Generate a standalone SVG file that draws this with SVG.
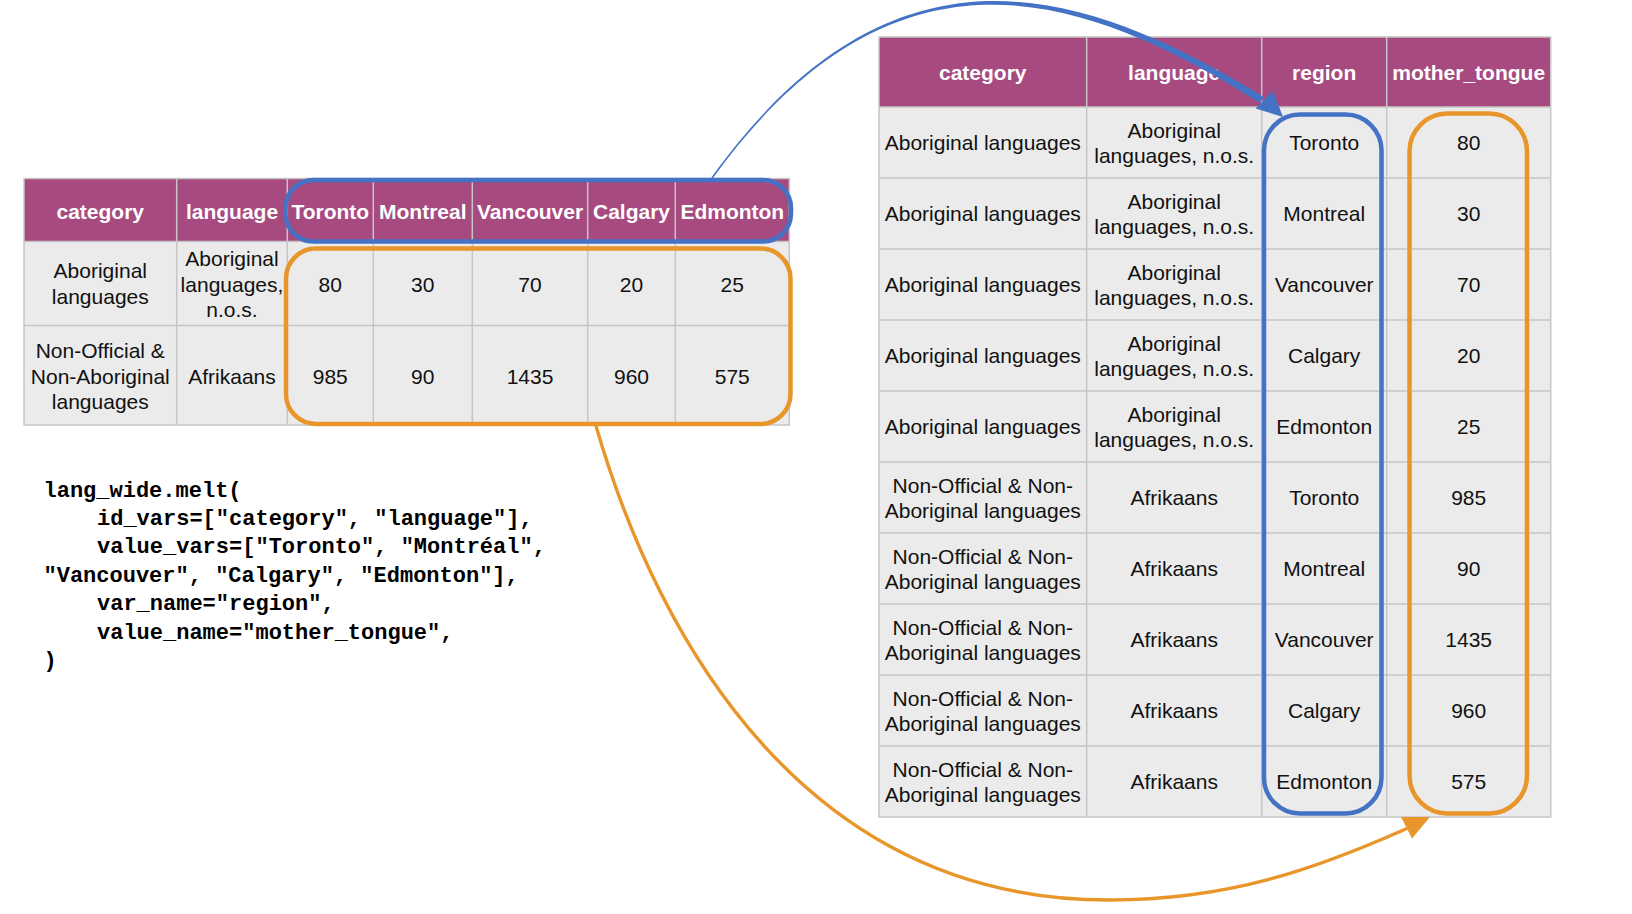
<svg xmlns="http://www.w3.org/2000/svg" width="1632" height="914" viewBox="0 0 1632 914">
<style>
.hd{fill:#A64A80}
.cell{fill:#EBEBEB}
.grid{stroke:#C6C6C6;stroke-width:1.5;fill:none}
.th{font-family:"Liberation Sans",Arial,sans-serif;font-weight:bold;font-size:21px;fill:#FFFFFF;text-anchor:middle}
.td{font-family:"Liberation Sans",Arial,sans-serif;font-size:21px;fill:#111111;text-anchor:middle}
.code{font-family:"Liberation Mono","DejaVu Sans Mono",monospace;font-weight:bold;font-size:22px;fill:#000000}
.blueBox{fill:none;stroke:#4472C4;stroke-width:4.5}
.orangeBox{fill:none;stroke:#E8962A;stroke-width:4.5}
</style>
<rect width="1632" height="914" fill="#FFFFFF"/>

<g id="wide-table">
  <rect x="24" y="178.5" width="765.3" height="63" class="hd"/>
  <rect x="24" y="241.5" width="765.3" height="183.5" class="cell"/>
  <path class="grid" d="M176.7,178.5V425M287.3,178.5V425M373.3,178.5V425M472.3,178.5V425M587.7,178.5V425M675.3,178.5V425M24,241.5H789.3M24,325.5H789.3"/>
  <rect x="24" y="178.5" width="765.3" height="246.5" class="grid"/>
  <text class="th" x="100.3" y="218.5">category</text>
  <text class="th" x="232" y="218.5">language</text>
  <text class="th" x="330.3" y="218.5">Toronto</text>
  <text class="th" x="422.8" y="218.5">Montreal</text>
  <text class="th" x="530" y="218.5">Vancouver</text>
  <text class="th" x="631.5" y="218.5">Calgary</text>
  <text class="th" x="732.3" y="218.5">Edmonton</text>
  <text class="td" x="100.3" y="278">Aboriginal</text>
  <text class="td" x="100.3" y="303.5">languages</text>
  <text class="td" x="232" y="266">Aboriginal</text>
  <text class="td" x="232" y="291.5">languages,</text>
  <text class="td" x="232" y="317">n.o.s.</text>
  <text class="td" x="330.3" y="292">80</text>
  <text class="td" x="422.8" y="292">30</text>
  <text class="td" x="530" y="292">70</text>
  <text class="td" x="631.5" y="292">20</text>
  <text class="td" x="732.3" y="292">25</text>
  <text class="td" x="100.3" y="358">Non-Official &amp;</text>
  <text class="td" x="100.3" y="383.5">Non-Aboriginal</text>
  <text class="td" x="100.3" y="409">languages</text>
  <text class="td" x="232" y="383.5">Afrikaans</text>
  <text class="td" x="330.3" y="383.5">985</text>
  <text class="td" x="422.8" y="383.5">90</text>
  <text class="td" x="530" y="383.5">1435</text>
  <text class="td" x="631.5" y="383.5">960</text>
  <text class="td" x="732.3" y="383.5">575</text>
</g>

<g id="long-table">
  <rect x="879" y="37" width="671.7" height="70" class="hd"/>
  <rect x="879" y="107" width="671.7" height="710" class="cell"/>
  <path class="grid" d="M1086.7,37V817M1261.7,37V817M1386.7,37V817M879,107H1550.7M879,178H1550.7M879,249H1550.7M879,320H1550.7M879,391H1550.7M879,462H1550.7M879,533H1550.7M879,604H1550.7M879,675H1550.7M879,746H1550.7"/>
  <rect x="879" y="37" width="671.7" height="780" class="grid"/>
  <text class="th" x="982.8" y="80">category</text>
  <text class="th" x="1174.2" y="80">language</text>
  <text class="th" x="1324.2" y="80">region</text>
  <text class="th" x="1468.7" y="80">mother_tongue</text>

  <text class="td" x="982.8" y="150">Aboriginal languages</text>
  <text class="td" x="1174.2" y="137.5">Aboriginal</text>
  <text class="td" x="1174.2" y="162.5">languages, n.o.s.</text>
  <text class="td" x="1324.2" y="150">Toronto</text>
  <text class="td" x="1468.7" y="150">80</text>

  <text class="td" x="982.8" y="221">Aboriginal languages</text>
  <text class="td" x="1174.2" y="208.5">Aboriginal</text>
  <text class="td" x="1174.2" y="233.5">languages, n.o.s.</text>
  <text class="td" x="1324.2" y="221">Montreal</text>
  <text class="td" x="1468.7" y="221">30</text>

  <text class="td" x="982.8" y="292">Aboriginal languages</text>
  <text class="td" x="1174.2" y="279.5">Aboriginal</text>
  <text class="td" x="1174.2" y="304.5">languages, n.o.s.</text>
  <text class="td" x="1324.2" y="292">Vancouver</text>
  <text class="td" x="1468.7" y="292">70</text>

  <text class="td" x="982.8" y="363">Aboriginal languages</text>
  <text class="td" x="1174.2" y="350.5">Aboriginal</text>
  <text class="td" x="1174.2" y="375.5">languages, n.o.s.</text>
  <text class="td" x="1324.2" y="363">Calgary</text>
  <text class="td" x="1468.7" y="363">20</text>

  <text class="td" x="982.8" y="434">Aboriginal languages</text>
  <text class="td" x="1174.2" y="421.5">Aboriginal</text>
  <text class="td" x="1174.2" y="446.5">languages, n.o.s.</text>
  <text class="td" x="1324.2" y="434">Edmonton</text>
  <text class="td" x="1468.7" y="434">25</text>

  <text class="td" x="982.8" y="492.5">Non-Official &amp; Non-</text>
  <text class="td" x="982.8" y="517.5">Aboriginal languages</text>
  <text class="td" x="1174.2" y="505">Afrikaans</text>
  <text class="td" x="1324.2" y="505">Toronto</text>
  <text class="td" x="1468.7" y="505">985</text>

  <text class="td" x="982.8" y="563.5">Non-Official &amp; Non-</text>
  <text class="td" x="982.8" y="588.5">Aboriginal languages</text>
  <text class="td" x="1174.2" y="576">Afrikaans</text>
  <text class="td" x="1324.2" y="576">Montreal</text>
  <text class="td" x="1468.7" y="576">90</text>

  <text class="td" x="982.8" y="634.5">Non-Official &amp; Non-</text>
  <text class="td" x="982.8" y="659.5">Aboriginal languages</text>
  <text class="td" x="1174.2" y="647">Afrikaans</text>
  <text class="td" x="1324.2" y="647">Vancouver</text>
  <text class="td" x="1468.7" y="647">1435</text>

  <text class="td" x="982.8" y="705.5">Non-Official &amp; Non-</text>
  <text class="td" x="982.8" y="730.5">Aboriginal languages</text>
  <text class="td" x="1174.2" y="718">Afrikaans</text>
  <text class="td" x="1324.2" y="718">Calgary</text>
  <text class="td" x="1468.7" y="718">960</text>

  <text class="td" x="982.8" y="776.5">Non-Official &amp; Non-</text>
  <text class="td" x="982.8" y="801.5">Aboriginal languages</text>
  <text class="td" x="1174.2" y="789">Afrikaans</text>
  <text class="td" x="1324.2" y="789">Edmonton</text>
  <text class="td" x="1468.7" y="789">575</text>
</g>

<g id="highlights">
  <rect id="wide-header-box" class="blueBox" x="285.5" y="180" width="505.5" height="61.5" rx="28" ry="28"/>
  <rect id="wide-values-box" class="orangeBox" x="286" y="248.5" width="504.5" height="175.5" rx="30" ry="30"/>
  <rect id="region-box" class="blueBox" x="1264" y="114.5" width="117.5" height="699" rx="36" ry="36"/>
  <rect id="value-box" class="orangeBox" x="1409.5" y="113.5" width="117.5" height="700" rx="38" ry="38"/>
</g>

<g id="code">
  <text class="code" x="43.5" y="496.5">lang_wide.melt(</text>
  <text class="code" x="97" y="524.9">id_vars=["category", "language"],</text>
  <text class="code" x="97" y="553.3">value_vars=["Toronto", "Montréal",</text>
  <text class="code" x="43.5" y="581.7">"Vancouver", "Calgary", "Edmonton"],</text>
  <text class="code" x="97" y="610.1">var_name="region",</text>
  <text class="code" x="97" y="638.5">value_name="mother_tongue",</text>
  <text class="code" x="43.5" y="666.9">)</text>
</g>

<g id="connectors">
  <path id="blue-arc" fill="#4472C4" d="M712.6,178.4 C896.2,-75.4 1086.1,-5.8 1260.2,103 L1263.8,97 C1086.9,-11 894.8,-77.4 711.4,177.6 Z"/>
  <polygon fill="#4472C4" points="1283,117 1255.5,108.5 1273,91"/>
  <path id="orange-arc" fill="none" stroke="#E8962A" stroke-width="3.4" d="M596,426 C660,647 809,900 1109,900 C1229,900 1316,869 1408,828"/>
  <polygon fill="#E8962A" points="1430,817 1401,817 1412,838.5"/>
</g>
</svg>
